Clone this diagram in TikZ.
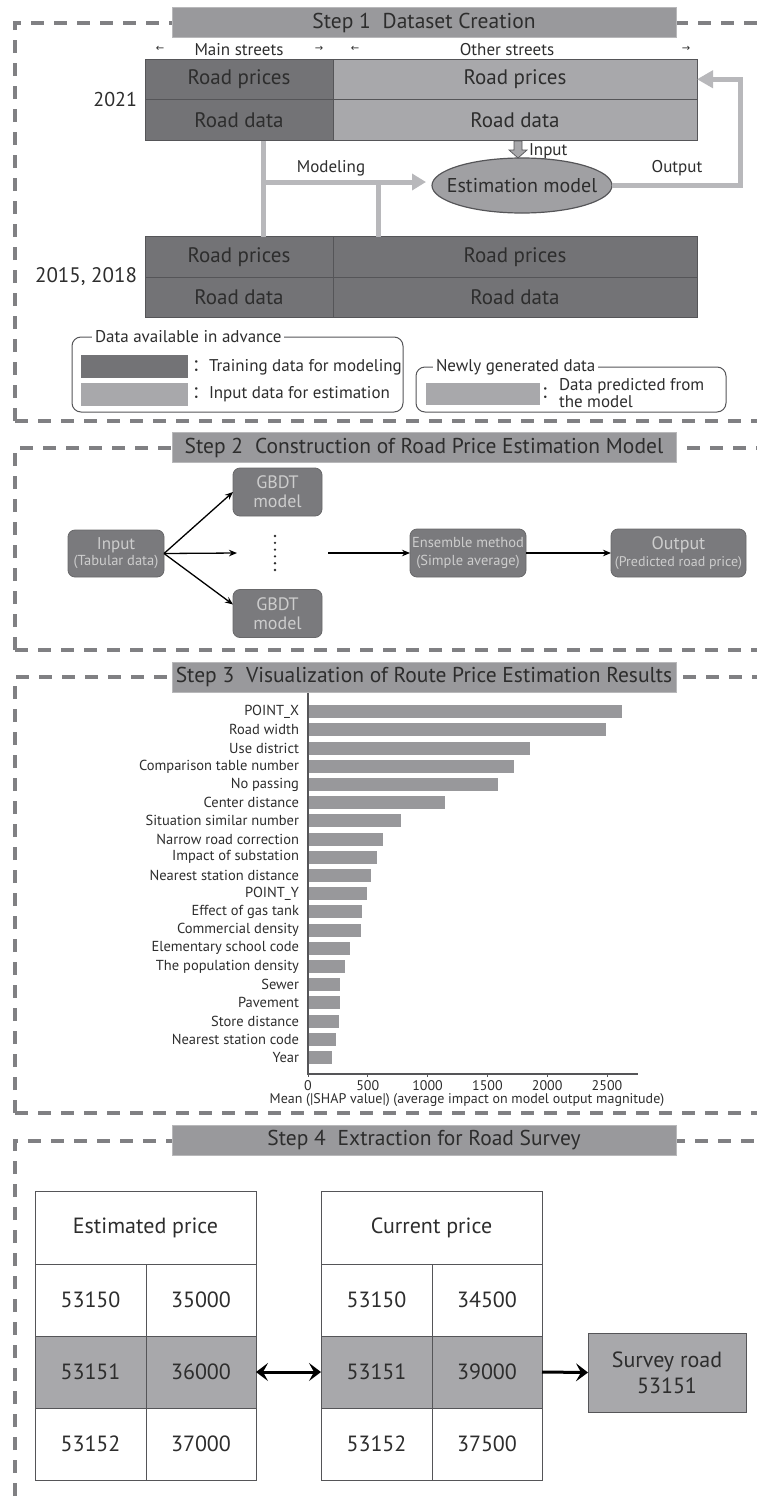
\documentclass[tikz,border=0pt]{standalone}
\usepackage{fontspec}
\setmainfont{PT Sans}
\newfontfamily\cjkfont{Noto Sans CJK SC}
\newfontfamily\symfont{DejaVu Sans}
\usepackage{tikz}
\usetikzlibrary{positioning,calc,arrows.meta,shapes.geometric}
\definecolor{rp-frame}{RGB}{128,128,131}
\definecolor{rp-title}{RGB}{153,153,156}
\definecolor{rp-dark}{RGB}{115,115,118}
\definecolor{rp-light}{RGB}{168,168,171}
\definecolor{rp-link}{RGB}{184,184,187}
\definecolor{rp-edge}{RGB}{85,85,88}
\definecolor{rp-text}{RGB}{45,45,45}
\definecolor{rp-ell}{RGB}{160,160,163}
\definecolor{rp-box}{RGB}{122,122,125}
\definecolor{rp-boxtext}{RGB}{205,205,205}
\definecolor{rp-bar}{RGB}{152,152,155}

\begin{document}
\begin{tikzpicture}[x=1pt,y=-1pt,
    every node/.style={inner sep=0pt,outer sep=0pt,text=rp-text},
    fs/.style 2 args={font=\fontsize{#1}{#2}\selectfont},
    stepframe/.style={rp-frame,line width=4pt,dash pattern=on 13pt off 10pt},
    steptitle/.style={fill=rp-title,draw=rp-title!70!white,line width=0.6pt,minimum width=504,minimum height=30,fs={21.5}{24}},
    dirarrow/.style={font=\symfont\fontsize{10}{12}\selectfont},
    roadcell/.style={draw=rp-edge,line width=0.8pt,minimum height=40.5,fs={21}{24}},
    flowlink/.style={rp-link,line width=5pt},
    legendbox/.style={draw=rp-edge,line width=1pt,rounded corners=9pt,anchor=north west},
    legendtitle/.style={fill=white,inner sep=3pt,anchor=west,fs={17}{20}},
    swatch/.style={anchor=north west,minimum height=23},
    gbdtbox/.style={fill=rp-box,draw=rp-box!85!black,line width=0.8pt,rounded corners=7pt,minimum height=48,align=center,text=rp-boxtext},
    thinarrow/.style={black,line width=1.3pt,-{Stealth[length=8pt,width=6.5pt]}},
    featlab/.style={anchor=east,fs={14.5}{16}},
    pricecell/.style={draw=rp-edge,line width=0.9pt,anchor=north west,minimum height=72,fs={22}{26}},
    bigarrow/.style={black,line width=3pt,>={Stealth[length=12pt,width=18pt,inset=5pt]}}]
    \useasboundingbox (0,0) rectangle (757,1502);

    \draw[stepframe] (15,421) -- (15,23) -- (757,23);
    \draw[stepframe] (15,421) -- (757,421);
    \draw[stepframe] (15,650) -- (15,448) -- (757,448);
    \draw[stepframe] (15,650) -- (757,650);
    \draw[stepframe] (15,1113) -- (15,677) -- (757,677);
    \draw[stepframe] (15,1113) -- (757,1113);
    \draw[stepframe] (15,1496) -- (15,1141) -- (757,1141);

    \node[steptitle] (step1) at (424,22.5) {Step 1\hspace{0.55em}Dataset Creation};
    \node[dirarrow] (main-l) at (160,49) {←};
    \node[fs={17}{20}] (mainlab) at (239,50) {Main streets};
    \node[dirarrow] (main-r) at (319,49) {→};
    \node[dirarrow] (other-l) at (355,49) {←};
    \node[fs={17}{20}] (otherlab) at (507,50) {Other streets};
    \node[dirarrow] (other-r) at (686,49) {→};

    \node[roadcell,fill=rp-dark,minimum width=188,anchor=north west] (t1mp) at (145,59) {Road prices};
    \node[roadcell,fill=rp-dark,minimum width=188,below=0pt of t1mp] (t1md) {Road data};
    \node[roadcell,fill=rp-light,minimum width=364,right=0pt of t1mp] (t1op) {Road prices};
    \node[roadcell,fill=rp-light,minimum width=364,right=0pt of t1md] (t1od) {Road data};
    \node[fs={20}{24},left=8pt of t1mp.south west] (y2021) {2021};

    \node[roadcell,fill=rp-dark,minimum width=188,anchor=north west] (t2mp) at (145,236.5) {Road prices};
    \node[roadcell,fill=rp-dark,minimum width=188,below=0pt of t2mp] (t2md) {Road data};
    \node[roadcell,fill=rp-dark,minimum width=364,right=0pt of t2mp] (t2op) {Road prices};
    \node[roadcell,fill=rp-dark,minimum width=364,right=0pt of t2md] (t2od) {Road data};
    \node[fs={21}{24},left=8pt of t2mp.south west] (y2015) {2015, 2018};

    \node[ellipse,draw=rp-edge,fill=rp-ell,line width=1.2pt,minimum width=180,minimum height=55] (model) at (522,185.5) {};
    \node[fs={20}{24}] (modellab) at (model.center) {Estimation model};
    \filldraw[fill=rp-light,draw=rp-edge,line width=0.7pt] (514,141) -- (522,141) -- (522,150) -- (527,150) -- (518,158) -- (509,150) -- (514,150) -- cycle;
    \node[fs={17}{20},anchor=west] (inlab) at (529,151) {Input};

    \coordinate (mtop) at (263,140.5);
    \coordinate (mjoin) at (263,182);
    \coordinate (mbot) at (263,236.5);
    \coordinate (mjoin2) at (378,182);
    \coordinate (mbot2) at (378,236.5);
    \draw[flowlink] (mtop) -- (mbot);
    \draw[flowlink] (mjoin2) -- (mbot2);
    \draw[flowlink,-{Triangle[length=14pt,width=16pt]}] (mjoin) -- ($(mjoin -| model.west)+(-6,0)$);
    \node[fs={17}{20}] (modeling) at (331,168) {Modeling};
    \draw[flowlink,-{Triangle[length=16pt,width=17pt]}] (model.east) -- ++(128,0) |- (t1op.east);
    \node[fs={17}{20}] (outlab) at (677,168) {Output};

    \node[legendbox,minimum width=331,minimum height=75] (leg1) at (72,337) {};
    \node[legendtitle] (leg1t) at (92,337) {Data available in advance};
    \node[swatch,fill=rp-dark,minimum width=107] (sw1) at (81,355) {};
    \node[fs={17}{20},anchor=west] (sw1t) at (192,367) {{\cjkfont ：}Training data for modeling};
    \node[swatch,fill=rp-light,minimum width=107] (sw2) at (81,383) {};
    \node[fs={17}{20},anchor=west] (sw2t) at (192,394) {{\cjkfont ：}Input data for estimation};
    \node[legendbox,minimum width=310,minimum height=45] (leg2) at (416,367) {};
    \node[legendtitle] (leg2t) at (433,367) {Newly generated data};
    \node[swatch,fill=rp-light,minimum width=114,minimum height=22] (sw3) at (426,383) {};
    \node[fs={17}{20},anchor=west] (sw3c) at (541,393) {{\cjkfont ：}};
    \node[fs={17}{17},anchor=west,align=left] (sw3t) at (559,393.5) {Data predicted from\\the model};

    \node[steptitle] (step2) at (424,447.5) {Step 2\hspace{0.55em}Construction of Road Price Estimation Model};
    \node[gbdtbox,minimum width=96,minimum height=47,fs={17}{16}] (inp) at (116,553.5) {Input\\{\fontsize{14.5}{16}\selectfont(Tabular data)}};
    \node[gbdtbox,minimum width=89,fs={18}{19}] (gbdt1) at (277.5,492) {GBDT\\model};
    \node[gbdtbox,minimum width=89,fs={18}{19}] (gbdt2) at (277.5,613.5) {GBDT\\model};
    \node[gbdtbox,minimum width=116,fs={14.5}{18}] (ens) at (468,553) {Ensemble method\\(Simple average)};
    \node[gbdtbox,minimum width=135,fs={18}{17}] (out) at (678.5,553) {Output\\{\fontsize{14}{16}\selectfont(Predicted road price)}};
    \coordinate (vdl) at (237,553);
    \coordinate (vdr) at (328,553);
    \foreach \k in {0,...,5}
        \fill[rp-text] (275,536+6.8*\k) circle (1.3);
    \draw[thinarrow] (inp.east) -- (gbdt1.west);
    \draw[thinarrow] (inp.east) -- (vdl);
    \draw[thinarrow] (inp.east) -- ($(gbdt2.west)+(0,-9)$);
    \draw[thinarrow] (vdr) -- (ens.west);
    \draw[thinarrow] (ens.east) -- (out.west);

    \node[steptitle] (step3) at (424,677) {Step 3\hspace{0.55em}Visualization of Route Price Estimation Results};
    \foreach \lab/\val [count=\i from 0] in {POINT\_X/2625,Road width/2492,Use district/1856,Comparison table number/1722,No passing/1589,Center distance/1145,Situation similar number/778,Narrow road correction/627,Impact of substation/577,Nearest station distance/527,POINT\_Y/493,Effect of gas tank/451,Commercial density/443,Elementary school code/351,The population density/309,Sewer/268,Pavement/268,Store distance/259,Nearest station code/234,Year/200} {
        \fill[rp-bar] (308,705.2+18.2*\i) rectangle ++(0.1196*\val,13);
        \node[featlab] (feat\i) at (299,711.7+18.2*\i) {\lab};
    }
    \draw[rp-edge,line width=1.3pt] (308,693) -- (308,1074) -- (638,1074);
    \foreach \t in {0,500,...,2500} {
        \draw[rp-edge,line width=0.8pt] (308+0.1196*\t,1074) -- ++(0,3);
        \node[fs={14}{16}] (tick\t) at (308+0.1196*\t,1086) {\t};
    }
    \node[fs={14}{16}] (xlab) at (467,1100) {Mean (|SHAP value|) (average impact on model output magnitude)};

    \node[steptitle] (step4) at (424,1140) {Step 4\hspace{0.55em}Extraction for Road Survey};
    \node[pricecell,minimum width=221,minimum height=73] (est-h) at (35,1191) {Estimated price};
    \node[pricecell,minimum width=221,minimum height=73] (cur-h) at (321,1191) {Current price};
    \foreach \r/\ida/\pe/\pc/\shade in {1/53150/35000/34500/white,2/53151/36000/39000/rp-light,3/53152/37000/37500/white} {
        \node[pricecell,fill=\shade,minimum width=111] (est-a\r) at (35,1192+72*\r) {\ida};
        \node[pricecell,fill=\shade,minimum width=110] (est-b\r) at (146,1192+72*\r) {\pe};
        \node[pricecell,fill=\shade,minimum width=111] (cur-a\r) at (321,1192+72*\r) {\ida};
        \node[pricecell,fill=\shade,minimum width=110] (cur-b\r) at (432,1192+72*\r) {\pc};
    }
    \node[draw=rp-edge,fill=rp-light,line width=0.9pt,minimum width=158,minimum height=79,align=center,fs={22}{26}] (survey) at (667,1372.5) {Survey road\\53151};
    \draw[bigarrow,<->] (est-b2.east) -- (cur-a2.west);
    \draw[bigarrow,->] (cur-b2.east) -- (survey.west);
\end{tikzpicture}
\end{document}
